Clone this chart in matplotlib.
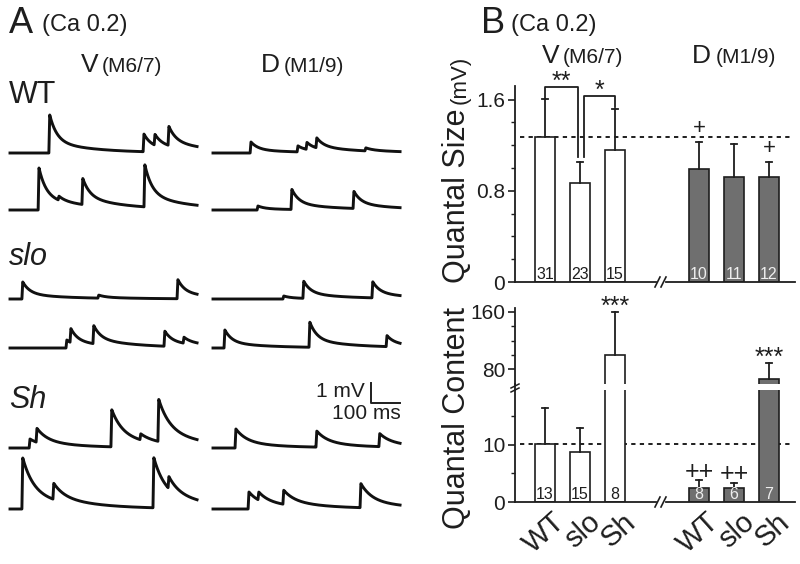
import numpy as np
import matplotlib
matplotlib.use('Agg')
import matplotlib.pyplot as plt
from matplotlib.lines import Line2D

plt.rcParams['font.family'] = ['Liberation Sans', 'DejaVu Sans']

W, H = 800, 564
INK = '#1e1e1e'

# ---------------- Panel B data ----------------
genotypes = ['WT', 'slo', 'Sh']
size_V_mean = [1.27, 0.87, 1.16]
size_V_err = [0.34, 0.18, 0.36]
size_D_mean = [0.99, 0.92, 0.92]
size_D_err = [0.24, 0.29, 0.13]
size_V_n = [31, 23, 15]
size_D_n = [10, 11, 12]
size_D_marks = ['+', '', '+']
size_ref = 1.27

content_V_mean = [10.1, 8.8, 100.0]
content_V_err = [6.4, 4.2, 60.0]
content_D_mean = [2.4, 2.5, 66.0]
content_D_err = [1.4, 0.9, 22.0]
content_V_n = [13, 15, 8]
content_D_n = [8, 6, 7]
content_V_marks = ['', '', '***']
content_D_marks = ['++', '++', '***']
content_ref = 10.1

# ---------------- Panel A data: events (ms from trace start, mV) ----------------
WT_V1 = [(134, 1.9), (459, 0.88), (497, 0.54), (545, 0.95)]
WT_V2 = [(97, 2.1), (166, 0.2), (248, 1.3), (462, 2.1)]
WT_D1 = [(128, 0.55), (290, 0.3), (321, 0.35), (355, 0.5), (524, 0.15)]
WT_D2 = [(152, 0.2), (269, 1.0), (483, 0.85)]
slo_V1 = [(41, 0.85), (303, 0.15), (576, 0.95)]
slo_V2 = [(193, 0.4), (207, 0.7), (286, 0.9), (531, 0.75), (597, 0.3)]
slo_D1 = [(241, 0.15), (310, 0.85), (548, 0.8)]
slo_D2 = [(38, 0.9), (331, 1.25), (597, 0.55)]
Sh_V1 = [(66, 0.45), (90, 0.7), (348, 1.85), (448, 0.3), (510, 2.1)]
Sh_V2 = [(41, 2.55), (148, 0.8), (493, 2.5), (545, 0.6)]
Sh_D1 = [(76, 0.95), (355, 0.8), (572, 0.65)]
Sh_D2 = [(121, 0.85), (155, 0.4), (241, 0.7), (507, 1.2)]

row_labels = ['WT', 'slo', 'Sh']
traces_V = [[WT_V1, WT_V2], [slo_V1, slo_V2], [Sh_V1, Sh_V2]]
traces_D = [[WT_D1, WT_D2], [slo_D1, slo_D2], [Sh_D1, Sh_D2]]
decay_fast = {'WT': 25, 'slo': 25, 'Sh': 38}

fig = plt.figure(figsize=(W / 100, H / 100), dpi=100)


def rect(x0, y0, x1, y1):
    return [x0 / W, 1 - y1 / H, (x1 - x0) / W, (y1 - y0) / H]


def ftext(px, py, s, **kw):
    return fig.text(px / W, 1 - py / H, s, color=INK, **kw)


def fline(xs, ys, **kw):
    fig.add_artist(Line2D([x / W for x in xs], [1 - y / H for y in ys],
                          transform=fig.transFigure, color=INK, **kw))


# ================= Panel A =================
PX_PER_MS = 0.29
PX_PER_MV = 20.0
axA = fig.add_axes([0, 0, 420 / W, 1])
axA.set_xlim(0, 420 / PX_PER_MS)
axA.set_ylim(0, H / PX_PER_MV)
axA.axis('off')


def make_trace(events, tau_f, dur=645, tau_s=150, frac=0.3, rise=3.0):
    t = np.arange(0, dur + 1, 1.0)
    y = np.zeros_like(t)
    for t0, a in events:
        s = t - t0
        r = np.clip(s / rise, 0, 1)
        d = np.where(s > rise,
                     (1 - frac) * np.exp(-(s - rise) / tau_f) + frac * np.exp(-(s - rise) / tau_s),
                     1.0)
        y += a * r * d
    return t, y


row_base_px = [[153, 210], [299, 348], [448, 509]]
col_start_px = [10, 213]
for gi, g in enumerate(row_labels):
    for ci, cols in enumerate([traces_V, traces_D]):
        for ri, ev in enumerate(cols[gi]):
            t, y = make_trace(ev, decay_fast[g])
            x0 = col_start_px[ci] / PX_PER_MS
            b = (H - row_base_px[gi][ri]) / PX_PER_MV
            axA.plot(t + x0, y + b, color='#111111', lw=2.1, solid_joinstyle='round')

# scale bar: 1 mV, 100 ms
sb_x = 371 / PX_PER_MS
sb_y = (H - 403) / PX_PER_MV
axA.plot([sb_x, sb_x, sb_x + 100], [sb_y + 1.0, sb_y, sb_y], color=INK, lw=1.4)
ftext(365, 397, '1 mV', fontsize=15, ha='right', va='baseline')
ftext(401, 419, '100 ms', fontsize=15, ha='right', va='baseline')

ftext(9, 33, 'A', fontsize=26, va='baseline')
ftext(42, 31, '(Ca 0.2)', fontsize=17, va='baseline')
ftext(81, 72, 'V', fontsize=19, va='baseline')
ftext(102, 72, '(M6/7)', fontsize=15, va='baseline')
ftext(261, 72, 'D', fontsize=19, va='baseline')
ftext(284, 72, '(M1/9)', fontsize=15, va='baseline')
ftext(9, 103, 'WT', fontsize=22, va='baseline')
ftext(9, 265, 'slo', fontsize=22, style='italic', va='baseline')
ftext(9, 408, 'Sh', fontsize=22, style='italic', va='baseline')

# ================= Panel B =================
ftext(481, 33, 'B', fontsize=26, va='baseline')
ftext(511, 31, '(Ca 0.2)', fontsize=17, va='baseline')
ftext(542, 63, 'V', fontsize=19, va='baseline')
ftext(563, 63, '(M6/7)', fontsize=15, va='baseline')
ftext(692, 63, 'D', fontsize=19, va='baseline')
ftext(716, 63, '(M1/9)', fontsize=15, va='baseline')

UNIT = 35.0
xl = (-30 / UNIT, 250 / UNIT)
xV = np.arange(3, dtype=float)
xD = 4.4 + np.arange(3, dtype=float)
bw = 20 / UNIT
cap = 3.2 / UNIT
GRAY = '#6f6f6f'

ax_s = fig.add_axes(rect(515, 86, 795, 282))
ax_cl = fig.add_axes(rect(515, 390, 795, 502))
ax_cu = fig.add_axes(rect(515, 308, 795, 384))

for ax in (ax_s, ax_cl, ax_cu):
    ax.set_xlim(*xl)
    ax.patch.set_visible(False)
    for sp in ('top', 'right', 'bottom'):
        ax.spines[sp].set_visible(False)
    ax.spines['left'].set_linewidth(1.3)
    ax.spines['left'].set_color(INK)
    ax.set_xticks([])
    ax.tick_params(axis='y', which='major', direction='out', length=5, width=1.2,
                   labelsize=15, colors=INK, pad=2)
    ax.tick_params(axis='y', which='minor', direction='out', length=3, width=1.0, colors=INK)

ax_s.set_ylim(0, 1.72)
ax_s.set_yticks([0, 0.8, 1.6])
ax_s.set_yticklabels(['0', '0.8', '1.6'])
ax_s.set_yticks(np.arange(0.2, 1.6, 0.2), minor=True)

ax_cl.set_ylim(0, 19.6)
ax_cl.set_yticks([0, 10])
ax_cl.set_yticklabels(['0', '10'])
ax_cl.set_yticks([5, 15], minor=True)

ax_cu.set_ylim(59, 165.6)
ax_cu.set_yticks([80, 160])
ax_cu.set_yticklabels(['80', '160'])
ax_cu.set_yticks([100, 120, 140], minor=True)


def draw_bars(ax, xs, means, errs, fc):
    ax.bar(xs, means, width=bw, color=fc, edgecolor=INK, linewidth=1.2, zorder=3)
    for x, m, e in zip(xs, means, errs):
        ax.plot([x, x], [m, m + e], color=INK, lw=1.3, zorder=3)
        ax.plot([x - cap, x + cap], [m + e, m + e], color=INK, lw=1.3, zorder=3)


draw_bars(ax_s, xV, size_V_mean, size_V_err, 'white')
draw_bars(ax_s, xD, size_D_mean, size_D_err, GRAY)
for ax in (ax_cl, ax_cu):
    draw_bars(ax, xV, content_V_mean, content_V_err, 'white')
    draw_bars(ax, xD, content_D_mean, content_D_err, GRAY)

dash = (0, (2.2, 2.2))
ax_s.plot([xl[0] + 5 / UNIT, xl[1] - 4 / UNIT], [size_ref] * 2, ls=dash, color=INK, lw=1.4, zorder=1)
ax_cl.plot([xl[0] + 5 / UNIT, xl[1] - 4 / UNIT], [content_ref] * 2, ls=dash, color=INK, lw=1.4, zorder=1)

# n labels inside bars
for ax, xs, ns, col in [(ax_s, xV, size_V_n, INK), (ax_s, xD, size_D_n, '#eeeeee'),
                        (ax_cl, xV, content_V_n, INK), (ax_cl, xD, content_D_n, '#eeeeee')]:
    for x, n in zip(xs, ns):
        ax.annotate(str(n), (x, 0), xytext=(0, 2), textcoords='offset points',
                    ha='center', va='baseline', fontsize=11.5, color=col, zorder=5)

# marks
for x, m, e, s in zip(xD, size_D_mean, size_D_err, size_D_marks):
    if s:
        ax_s.annotate(s, (x, m + e), xytext=(0, 6), textcoords='offset points',
                      ha='center', va='baseline', fontsize=16, color=INK)
for xs, ms, es, marks in [(xV, content_V_mean, content_V_err, content_V_marks),
                          (xD, content_D_mean, content_D_err, content_D_marks)]:
    for x, m, e, s in zip(xs, ms, es, marks):
        if not s:
            continue
        ax = ax_cu if m + e > 19.6 else ax_cl
        off = -1 if s.startswith('*') else 1
        ax.annotate(s, (x, m + e), xytext=(0, off), textcoords='offset points',
                    ha='center', va='baseline', fontsize=18, color=INK,
                    annotation_clip=False)

# significance brackets in the size panel
top1 = 1.71
ax_s.plot([xV[0], xV[0], 0.94, 0.94], [size_V_mean[0] + size_V_err[0], top1, top1, 1.10],
          color=INK, lw=1.3, clip_on=False)
top2 = 1.63
ax_s.plot([1.11, 1.11, xV[2], xV[2]], [1.10, top2, top2, size_V_mean[2] + size_V_err[2] + 0.02],
          color=INK, lw=1.3, clip_on=False)
ax_s.annotate('**', ((xV[0] + 0.94) / 2, top1), xytext=(0, -1), textcoords='offset points',
              ha='center', va='baseline', fontsize=18, color=INK, annotation_clip=False)
ax_s.annotate('*', ((1.11 + xV[2]) / 2, top2), xytext=(0, -1), textcoords='offset points',
              ha='center', va='baseline', fontsize=18, color=INK, annotation_clip=False)

# broken x axes
for ybase in (282, 502):
    fline([515, 656], [ybase, ybase], lw=1.3)
    fline([666, 795], [ybase, ybase], lw=1.3)
    fline([655, 660], [ybase + 5, ybase - 5], lw=1.2)
    fline([661, 666], [ybase + 5, ybase - 5], lw=1.2)

# broken y axis in content panel
fline([515, 515], [384, 390], lw=1.3)
fline([511, 519], [388, 384], lw=1.1)
fline([511, 519], [392, 388], lw=1.1)

# x tick labels
for xs in (xV, xD):
    for x, g in zip(xs, genotypes):
        ax_cl.annotate(g, (x, 0), xycoords=('data', 'axes fraction'), xytext=(5, -4),
                       textcoords='offset points', rotation=42, rotation_mode='anchor',
                       ha='right', va='top', fontsize=21, color=INK, annotation_clip=False)

# y labels
ylab = ftext(457, 283, 'Quantal Size', fontsize=22, rotation=90, ha='center', va='bottom')
fig.canvas.draw()
bb = ylab.get_window_extent()
top_px = H - bb.y1
ftext(460, top_px - 4, '(mV)', fontsize=16, rotation=90, ha='center', va='bottom')
ftext(457, 529, 'Quantal Content', fontsize=22, rotation=90, ha='center', va='bottom')

fig.savefig('out.png', dpi=100)
